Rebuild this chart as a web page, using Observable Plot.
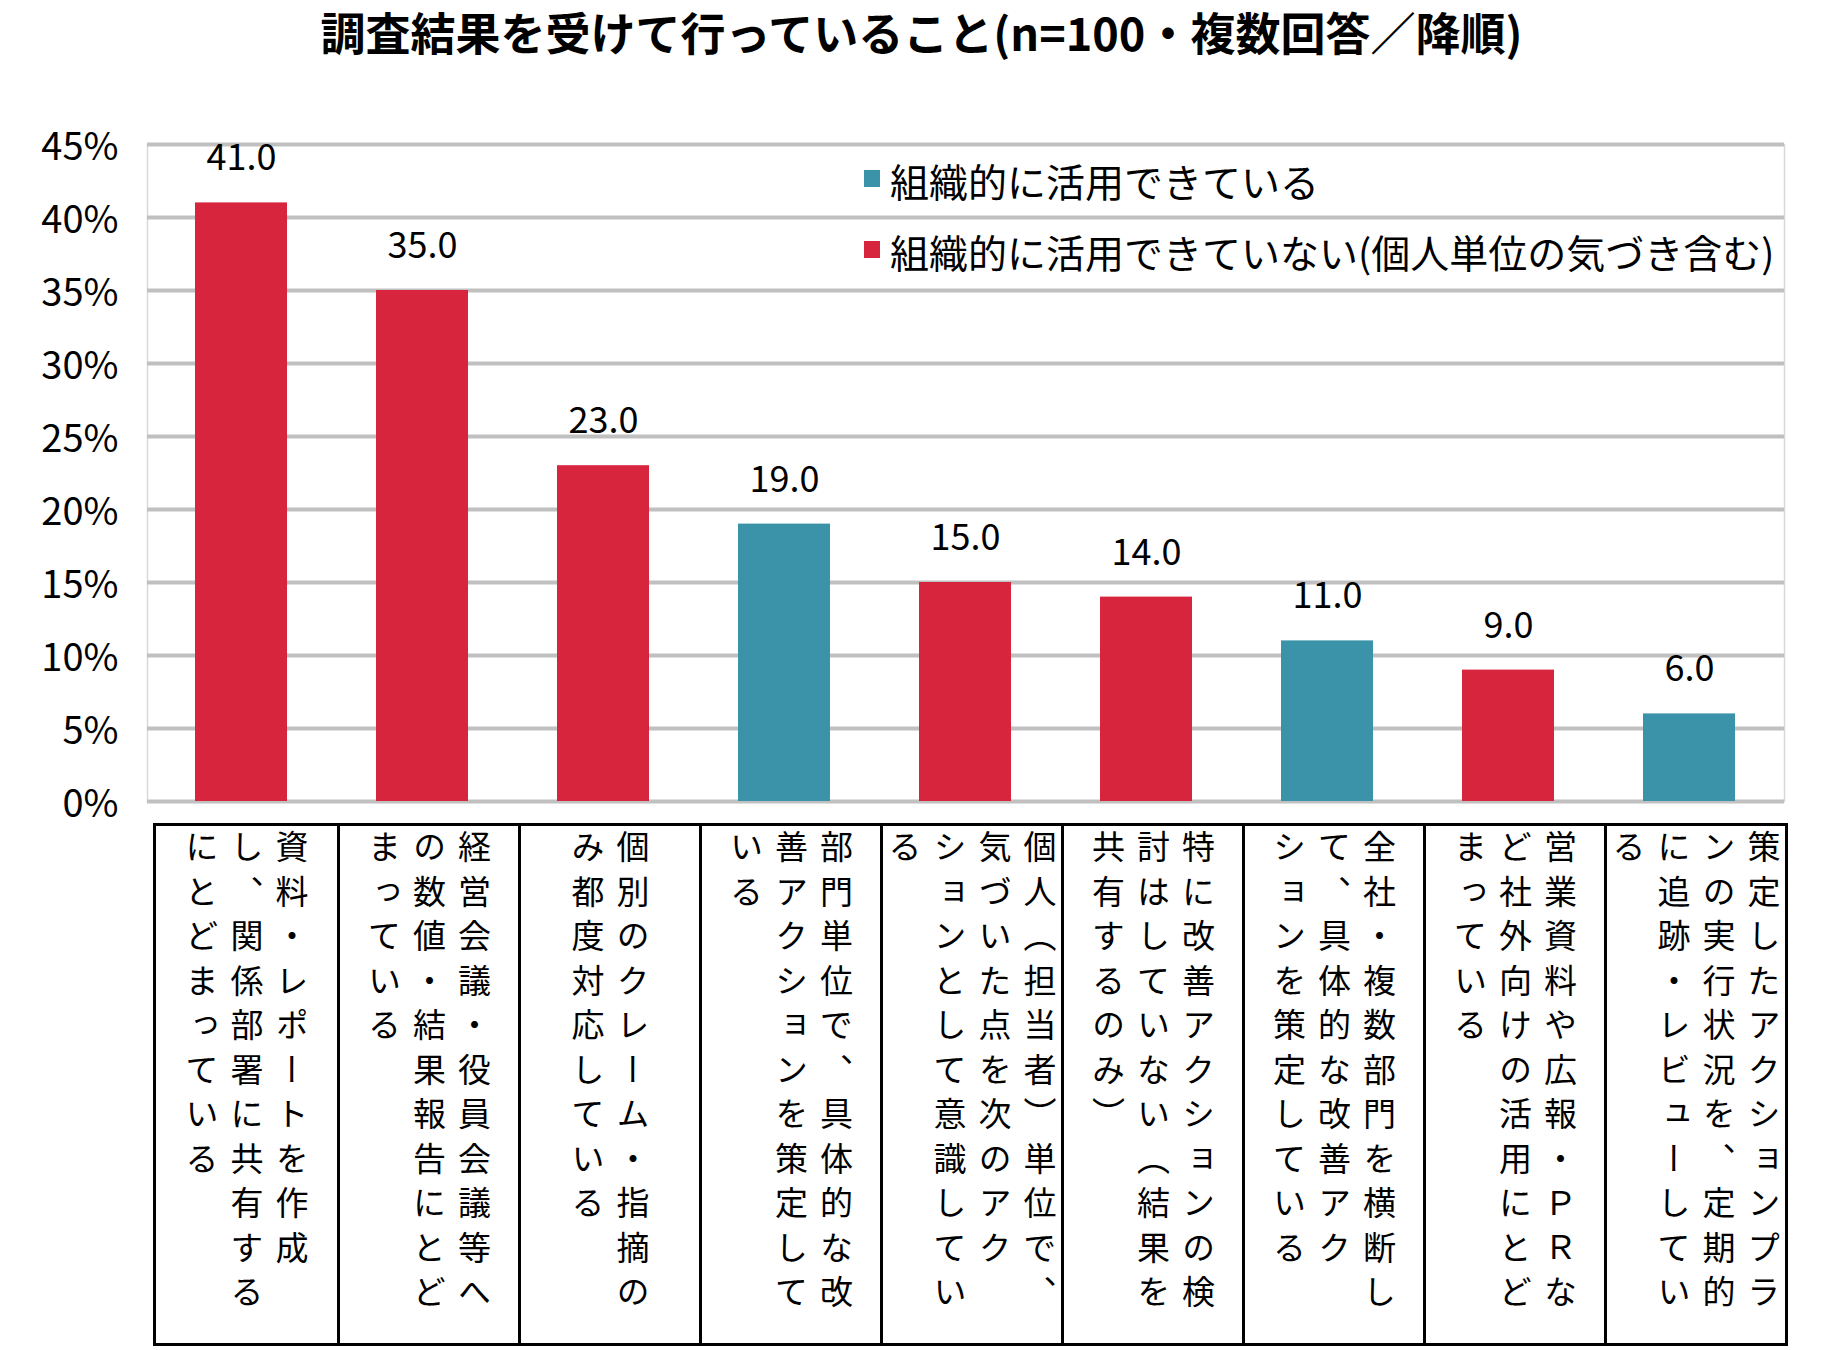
<!DOCTYPE html>
<html lang="ja">
<head>
<meta charset="utf-8">
<script src="https://cdn.jsdelivr.net/npm/d3@7"></script>
<script src="https://cdn.jsdelivr.net/npm/@observablehq/plot@0.6"></script>
<style>
  html, body { margin: 0; padding: 0; background: #fff; }
  body { width: 1843px; height: 1350px; font-family: "Noto Sans CJK JP", "Noto Sans", sans-serif; color: #000; position: relative; }
  #title { height: 80px; line-height: 64px; text-align: center; font-size: 45px; font-weight: bold; letter-spacing: 0px; }
  #chartwrap { position: relative; width: 1843px; }
  #chartwrap svg { display: block; overflow: visible; }
  .legend { position: absolute; left: 864px; font-size: 39px; line-height: 1; display: flex; align-items: center; white-space: nowrap; }
  .legend .sw { width: 16px; height: 17px; margin-right: 10px; margin-top: -4px; }
  #table { position: absolute; left: 153px; top: 823px; width: 1635px; height: 523px; box-sizing: border-box; border: 3px solid #000; display: grid; grid-template-columns: repeat(9, 1fr); }
  #table .cell { box-sizing: border-box; border-left: 3px solid #000; display: flex; justify-content: center; align-items: flex-start; padding-top: 4px; overflow: visible; min-width: 0; }
  #table .cell:first-child { border-left: none; }
  #table .vt { writing-mode: vertical-rl; text-orientation: mixed; font-size: 33px; letter-spacing: 11.5px; line-height: 45px; height: 496px; line-break: strict; word-break: normal; font-family: "Noto Sans CJK JP", sans-serif; flex-shrink: 0; }
</style>
</head>
<body>
<div id="title"></div>
<div id="chartwrap"></div>
<div id="table"></div>
<script>
// ---- data ----
const titleText = "調査結果を受けて行っていること(n=100・複数回答／降順)";
const categories = [
  "資料・レポートを作成し、関係部署に共有するにとどまっている",
  "経営会議・役員会議等への数値・結果報告にとどまっている",
  "個別のクレーム・指摘のみ都度対応している",
  "部門単位で、具体的な改善アクションを策定している",
  "個人（担当者）単位で、気づいた点を次のアクションとして意識している",
  "特に改善アクションの検討はしていない（結果を共有するのみ）",
  "全社・複数部門を横断して、具体的な改善アクションを策定している",
  "営業資料や広報・ＰＲなど社外向けの活用にとどまっている",
  "策定したアクションプランの実行状況を、定期的に追跡・レビューしている"
];
const values = [41.0, 35.0, 23.0, 19.0, 15.0, 14.0, 11.0, 9.0, 6.0];
const seriesNames = ["組織的に活用できている", "組織的に活用できていない(個人単位の気づき含む)"];
const seriesColors = ["#3b93aa", "#d8253e"];
const seriesIndex = [1, 1, 1, 0, 1, 1, 0, 1, 0];
const yTicks = [0, 5, 10, 15, 20, 25, 30, 35, 40, 45];

const data = categories.map((c, i) => ({label: c, value: values[i], group: seriesNames[seriesIndex[i]]}));

document.getElementById("title").textContent = titleText;

const chart = Plot.plot({
  width: 1843,
  height: 743,
  marginLeft: 147,
  marginRight: 59,
  marginTop: 64,
  marginBottom: 22,
  style: {fontFamily: "'Noto Sans CJK JP', sans-serif", color: "#000", background: "#fff", overflow: "visible"},
  x: {type: "band", domain: categories, paddingInner: 0.49, paddingOuter: 0.245, axis: null},
  y: {domain: [0, 45], ticks: yTicks, label: null},
  color: {domain: seriesNames, range: seriesColors},
  marks: [
    Plot.frame({stroke: "#d9d9d9", strokeWidth: 1.5}),
    Plot.gridY(yTicks, {stroke: "#c0c0c0", strokeWidth: 4, strokeOpacity: 1}),
    Plot.barY(data, {x: "label", y: "value", fill: "group"}),
    Plot.text(data, {x: "label", y: "value", text: d => d.value.toFixed(1), dy: -44, fontSize: 36, fill: "#000"}),
    Plot.axisY(yTicks, {tickSize: 0, tickPadding: 29, fontSize: 38, dy: 3, tickFormat: d => d + "%", fill: "#000", label: null})
  ]
});
const wrap = document.getElementById("chartwrap");
wrap.appendChild(chart);

// legend (inside plot area)
const legendTops = [100, 171];
seriesNames.forEach((name, i) => {
  const row = document.createElement("div");
  row.className = "legend";
  row.style.top = (legendTops[i] - 20) + "px";
  row.style.height = "40px";
  const sw = document.createElement("span");
  sw.className = "sw";
  sw.style.background = seriesColors[i];
  const tx = document.createElement("span");
  tx.textContent = name;
  row.appendChild(sw);
  row.appendChild(tx);
  wrap.appendChild(row);
});

// category table below
const table = document.getElementById("table");
categories.forEach(c => {
  const cell = document.createElement("div");
  cell.className = "cell";
  const vt = document.createElement("div");
  vt.className = "vt";
  vt.lang = "ja";
  vt.textContent = c;
  cell.appendChild(vt);
  table.appendChild(cell);
});
</script>
</body>
</html>
